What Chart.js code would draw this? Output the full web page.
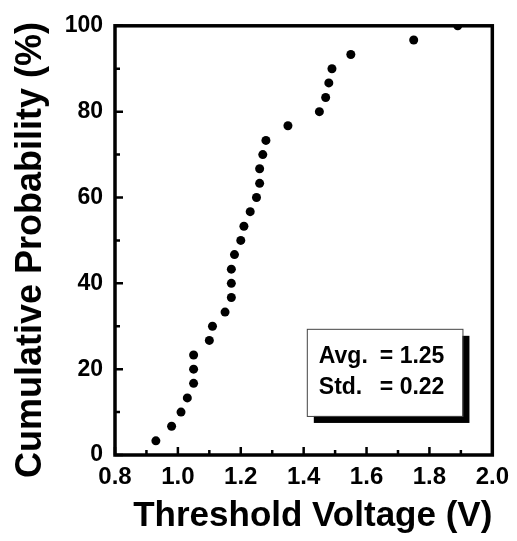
<!DOCTYPE html>
<html>
<head>
<meta charset="utf-8">
<script src="https://cdn.jsdelivr.net/npm/chart.js@4.4.0/dist/chart.umd.min.js"></script>
<style>
  html, body { margin: 0; padding: 0; background: #fff; }
  canvas { display: block; }
</style>
</head>
<body>
<canvas id="vthChart" width="517" height="541"></canvas>
<script>
// Data
const thresholdV = [0.93, 0.98, 1.01, 1.03, 1.05, 1.05, 1.05, 1.10, 1.11, 1.15,
                    1.17, 1.17, 1.17, 1.18, 1.20, 1.21, 1.23, 1.25, 1.26, 1.26,
                    1.27, 1.28, 1.35, 1.45, 1.47, 1.48, 1.49, 1.55, 1.75, 1.89];
const cumProb = [3.3, 6.7, 10.0, 13.3, 16.7, 20.0, 23.3, 26.7, 30.0, 33.3,
                 36.7, 40.0, 43.3, 46.7, 50.0, 53.3, 56.7, 60.0, 63.3, 66.7,
                 70.0, 73.3, 76.7, 80.0, 83.3, 86.7, 90.0, 93.3, 96.7, 100];
const xMinorTicks = [0.9, 1.1, 1.3, 1.5, 1.7, 1.9];
const yMinorTicks = [10, 30, 50, 70, 90];
const statLabels = ['Avg.', 'Std.'];
const statValues = ['= 1.25', '= 0.22'];
const yTitle = 'Cumulative Probability (%)';

const FONT = "'Liberation Sans', Arial, sans-serif";

// Frame around the plot + inward ticks (major and minor)
const frameAndTicks = {
  id: 'frameAndTicks',
  afterDraw(chart) {
    const { ctx, chartArea: a, scales: { x, y } } = chart;
    ctx.save();
    ctx.strokeStyle = '#000';
    ctx.lineWidth = 2.5;
    ctx.beginPath();
    x.ticks.forEach(t => {
      const px = x.getPixelForValue(t.value);
      ctx.moveTo(px, a.bottom); ctx.lineTo(px, a.bottom - 8);
    });
    xMinorTicks.forEach(v => {
      const px = x.getPixelForValue(v);
      ctx.moveTo(px, a.bottom); ctx.lineTo(px, a.bottom - 5);
    });
    y.ticks.forEach(t => {
      const py = y.getPixelForValue(t.value);
      ctx.moveTo(a.left, py); ctx.lineTo(a.left + 8, py);
    });
    yMinorTicks.forEach(v => {
      const py = y.getPixelForValue(v);
      ctx.moveTo(a.left, py); ctx.lineTo(a.left + 5, py);
    });
    ctx.stroke();
    ctx.lineWidth = 3.5;
    ctx.strokeRect(a.left, a.top, a.right - a.left, a.bottom - a.top);

    // y axis title, sitting a bit below the plot centre like the original
    ctx.fillStyle = '#000';
    ctx.font = 'bold 36px ' + FONT;
    ctx.textAlign = 'center';
    ctx.textBaseline = 'middle';
    ctx.translate(31, 250);
    ctx.rotate(-Math.PI / 2);
    ctx.fillText(yTitle, 0, 0);
    ctx.restore();
  }
};

// Stats text box with drop shadow
const statsBox = {
  id: 'statsBox',
  afterDraw(chart, args, opts) {
    const { ctx, scales: { x, y } } = chart;
    const l = x.getPixelForValue(opts.xFrom), r = x.getPixelForValue(opts.xTo);
    const t = y.getPixelForValue(opts.yFrom), b = y.getPixelForValue(opts.yTo);
    ctx.save();
    ctx.fillStyle = '#000';
    ctx.fillRect(l + 7, t + 7, r - l, b - t);
    ctx.fillStyle = '#fff';
    ctx.fillRect(l, t, r - l, b - t);
    ctx.strokeStyle = '#444';
    ctx.lineWidth = 1;
    ctx.strokeRect(l + 0.5, t + 0.5, r - l, b - t);
    ctx.fillStyle = '#000';
    ctx.font = 'bold 23px ' + FONT;
    ctx.textBaseline = 'middle';
    statLabels.forEach((s, i) => {
      const ty = t + 28 + i * 31;
      ctx.fillText(s, l + 12, ty);
      ctx.fillText(statValues[i], l + 73, ty);
    });
    ctx.restore();
  }
};

new Chart(document.getElementById('vthChart'), {
  type: 'scatter',
  data: {
    datasets: [{
      data: thresholdV.map((v, i) => ({ x: v, y: cumProb[i] })),
      backgroundColor: '#000',
      borderColor: '#000',
      pointRadius: 4.5,
      pointBorderWidth: 0,
      pointHoverRadius: 4.5
    }]
  },
  options: {
    responsive: false,
    animation: false,
    events: [],
    layout: { padding: { top: 22, right: 24, left: 0, bottom: 0 } },
    plugins: {
      legend: { display: false },
      tooltip: { enabled: false },
      statsBox: { xFrom: 1.41, xTo: 1.905, yFrom: 29.4, yTo: 9.1 }
    },
    scales: {
      x: {
        type: 'linear',
        min: 0.8,
        max: 2.0,
        ticks: {
          stepSize: 0.2,
          color: '#000',
          font: { family: FONT, size: 24, weight: 'bold' },
          padding: 8,
          maxRotation: 0,
          autoSkip: false,
          callback: v => v.toFixed(1)
        },
        grid: { display: false, drawTicks: false },
        border: { display: false },
        title: {
          display: true,
          text: 'Threshold Voltage (V)',
          align: 'end',
          color: '#000',
          font: { family: FONT, size: 35, weight: 'bold' },
          padding: { top: 0, bottom: 4 }
        },
        afterFit: s => { s.height = 86; }
      },
      y: {
        min: 0,
        max: 100,
        ticks: {
          stepSize: 20,
          color: '#000',
          font: { family: FONT, size: 23, weight: 'bold' },
          padding: 12
        },
        grid: { display: false, drawTicks: false },
        border: { display: false },
        afterFit: s => { s.width = 115; }
      }
    }
  },
  plugins: [frameAndTicks, statsBox]
});
</script>
</body>
</html>
